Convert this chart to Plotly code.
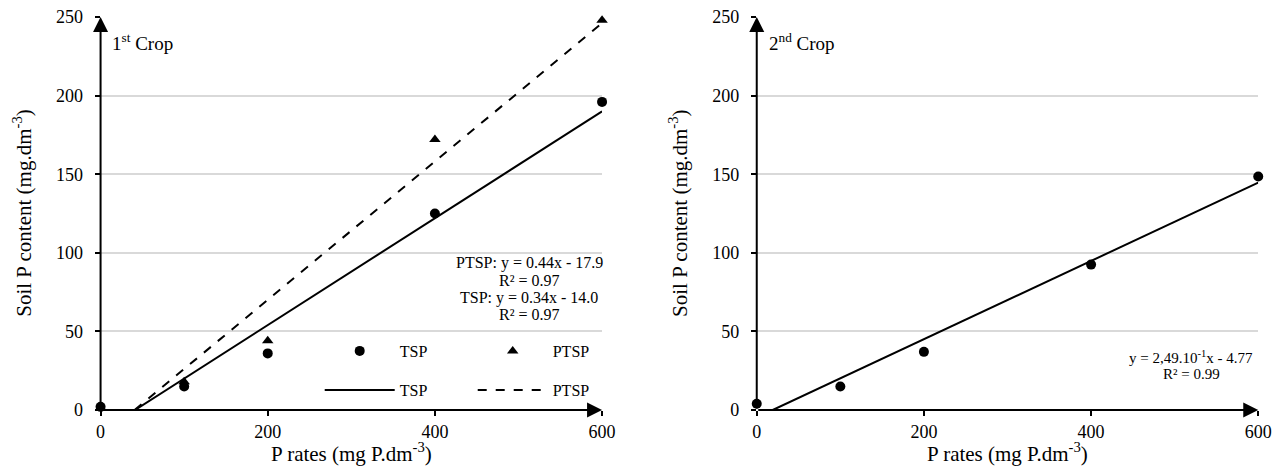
import numpy as np
import plotly.graph_objects as go

# P rates applied (mg P.dm-3)
rates = [0, 100, 200, 400, 600]

# Soil P content after the 1st crop
tsp_crop1 = [2, 15, 36, 125, 196]
ptsp_crop1 = [1.5, 18, 44, 172, 248]

# Soil P content after the 2nd crop
tsp_crop2 = [4, 15, 37, 92.5, 148.5]

# Fitted linear models (slope, intercept)
fit_tsp_crop1 = (0.34, -14.0)
fit_ptsp_crop1 = (0.44, -17.9)
fit_crop2 = (0.249, -4.77)

FONT = "Liberation Serif"
W, H = 1288, 468
TOP, BOTTOM = 17, 58
PLOT_H = H - TOP - BOTTOM


def py(pixel_y):
    """Pixel row (from the top of the page) -> paper y (plot-area relative)."""
    return (H - BOTTOM - pixel_y) / PLOT_H


def px(pixel_x):
    return pixel_x / W


def fit_line(coef, x_end=600):
    a, b = coef
    x0 = max(0.0, -b / a)
    xs = np.array([x0, x_end])
    return xs, a * xs + b


fig = go.Figure()

# ---- 1st crop ----
fig.add_trace(go.Scatter(
    x=rates, y=tsp_crop1, mode="markers", name="TSP",
    marker=dict(symbol="circle", size=10, color="black"),
    cliponaxis=False, xaxis="x", yaxis="y", legend="legend"))
fig.add_trace(go.Scatter(
    x=rates, y=ptsp_crop1, mode="markers", name="PTSP",
    marker=dict(symbol="triangle-up", size=10, color="black"),
    cliponaxis=False, xaxis="x", yaxis="y", legend="legend"))
lx, ly = fit_line(fit_tsp_crop1)
fig.add_trace(go.Scatter(
    x=lx, y=ly, mode="lines", name="TSP",
    line=dict(color="black", width=2), xaxis="x", yaxis="y", legend="legend2"))
lx, ly = fit_line(fit_ptsp_crop1)
fig.add_trace(go.Scatter(
    x=lx, y=ly, mode="lines", name="PTSP",
    line=dict(color="black", width=2, dash="dash"), xaxis="x", yaxis="y",
    legend="legend2"))

# ---- 2nd crop ----
fig.add_trace(go.Scatter(
    x=rates, y=tsp_crop2, mode="markers", showlegend=False,
    marker=dict(symbol="circle", size=10, color="black"),
    cliponaxis=False, xaxis="x2", yaxis="y2"))
lx, ly = fit_line(fit_crop2)
fig.add_trace(go.Scatter(
    x=lx, y=ly, mode="lines", showlegend=False,
    line=dict(color="black", width=2), xaxis="x2", yaxis="y2"))

xdom1 = [px(97), px(606)]
xdom2 = [px(763), px(1272)]

xaxis_common = dict(
    range=[0, 600], tickvals=[0, 200, 400, 600], showgrid=False, zeroline=False,
    showline=False, ticks="outside", ticklen=5, tickwidth=1.5, tickcolor="black",
    tickfont=dict(family=FONT, size=18, color="black"), fixedrange=True)
yaxis_common = dict(
    range=[0, 250], tickvals=[0, 50, 100, 150, 200, 250], showgrid=True,
    gridcolor="#d9d9d9", gridwidth=1.5, zeroline=False, showline=False,
    ticks="outside", ticklen=5, tickwidth=1.5, tickcolor="black",
    ticklabelstandoff=8,
    tickfont=dict(family=FONT, size=18, color="black"), fixedrange=True)

annotations = []
txt = dict(family=FONT, color="black")

for xa, ya, xd in (("x", "y", xdom1), ("x2", "y2", xdom2)):
    # axis arrows
    annotations.append(dict(x=600, y=0, ax=0, ay=0, xref=xa, yref=ya, axref=xa,
                            ayref=ya, text="", showarrow=True, arrowhead=2,
                            arrowsize=1.5, arrowwidth=2, arrowcolor="black",
                            standoff=0, startstandoff=0))
    annotations.append(dict(x=0, y=250, ax=0, ay=0, xref=xa, yref=ya, axref=xa,
                            ayref=ya, text="", showarrow=True, arrowhead=2,
                            arrowsize=1.5, arrowwidth=2, arrowcolor="black",
                            standoff=0, startstandoff=0))
    # axis titles
    annotations.append(dict(x=(xd[0] + xd[1]) / 2, y=py(452), xref="paper",
                            yref="paper", showarrow=False,
                            text="P rates (mg P.dm<sup>-3</sup>)",
                            font=dict(size=21, **txt), xanchor="center",
                            yanchor="middle"))
    annotations.append(dict(x=xd[0] - px(80), y=py(213), xref="paper",
                            yref="paper", showarrow=False, textangle=-90,
                            text="Soil P content (mg.dm<sup>-3</sup>)",
                            font=dict(size=21, **txt), xanchor="center",
                            yanchor="middle"))

# crop labels
annotations.append(dict(x=px(107), y=py(42), xref="paper", yref="paper",
                        showarrow=False, text="1<sup>st</sup> Crop",
                        font=dict(size=19, **txt), xanchor="left", yanchor="middle"))
annotations.append(dict(x=px(773), y=py(42), xref="paper", yref="paper",
                        showarrow=False, text="2<sup>nd</sup> Crop",
                        font=dict(size=19, **txt), xanchor="left", yanchor="middle"))

# regression equations
eq1 = [
    "PTSP: y = %.2fx - %.1f" % (fit_ptsp_crop1[0], -fit_ptsp_crop1[1]),
    "R² = 0.97",
    "TSP: y = %.2fx - %.1f" % (fit_tsp_crop1[0], -fit_tsp_crop1[1]),
    "R² = 0.97",
]
for i, line in enumerate(eq1):
    annotations.append(dict(x=px(532), y=py(263 + 17.3 * i), xref="paper",
                            yref="paper", showarrow=False, text=line,
                            font=dict(size=16, **txt), xanchor="center",
                            yanchor="middle"))
eq2 = ["y = 2,49.10<sup>-1</sup>x - %.2f" % (-fit_crop2[1]), "R² = 0.99"]
for i, line in enumerate(eq2):
    annotations.append(dict(x=px(1204), y=py(357 + 16.5 * i), xref="paper",
                            yref="paper", showarrow=False, text=line,
                            font=dict(size=15, **txt), xanchor="center",
                            yanchor="middle"))

legend_common = dict(orientation="h", xanchor="left", yanchor="middle",
                     font=dict(family=FONT, size=16, color="black"),
                     itemwidth=70, entrywidth=68, entrywidthmode="pixels",
                     bgcolor="rgba(0,0,0,0)", borderwidth=0, itemclick=False,
                     itemdoubleclick=False)

fig.update_layout(
    width=W, height=H,
    margin=dict(l=0, r=0, t=TOP, b=BOTTOM),
    paper_bgcolor="white", plot_bgcolor="white",
    xaxis=dict(domain=xdom1, anchor="y", **xaxis_common),
    yaxis=dict(domain=[0, 1], anchor="x", **yaxis_common),
    xaxis2=dict(domain=xdom2, anchor="y2", **xaxis_common),
    yaxis2=dict(domain=[0, 1], anchor="x2", **yaxis_common),
    legend=dict(x=0.248, y=py(351), **legend_common),
    legend2=dict(x=0.248, y=py(390), **legend_common),
    annotations=annotations,
    showlegend=True,
)

fig.write_html("out.html")
